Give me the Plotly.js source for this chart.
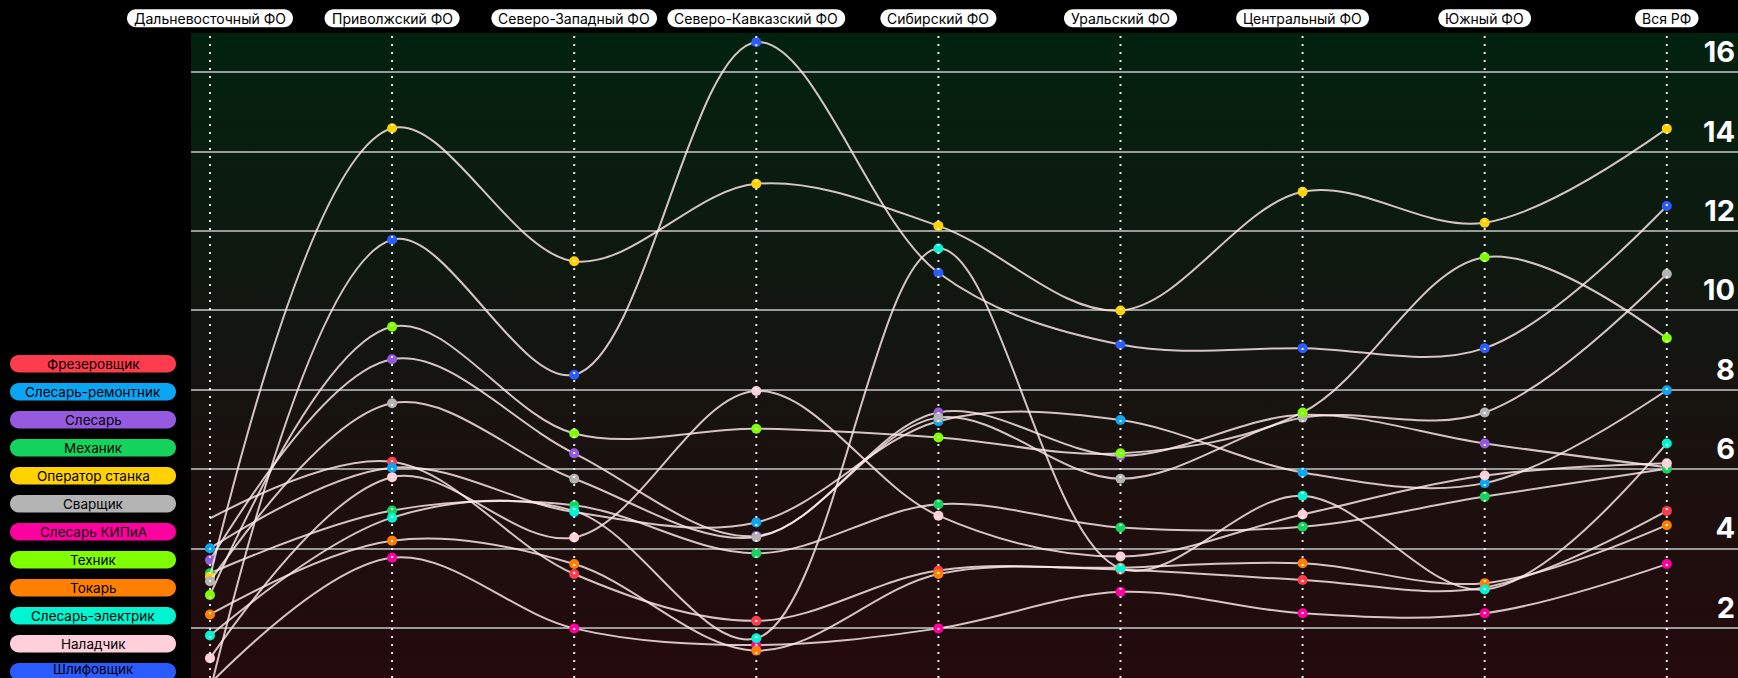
<!DOCTYPE html>
<html>
<head>
<meta charset="utf-8">
<script src="https://cdn.plot.ly/plotly-3.0.1.min.js"></script>
<style>
  html, body { margin: 0; padding: 0; background: #000; }
  #wrap { position: relative; width: 1738px; height: 678px; overflow: hidden; background: #000; }
  #bg {
    position: absolute; left: 191px; top: 33px; width: 1547px; height: 645px;
    background: linear-gradient(to bottom, #02220f 0%, #0b1b0f 25%, #141510 50%, #1d0f0e 75%, #240a0c 100%);
  }
  #chart { position: absolute; left: 0; top: 0; width: 1738px; height: 678px; }
</style>
</head>
<body>
<div id="wrap"><div id="bg"></div><div id="chart"></div></div>
<script>
// Federal districts (x categories)
const districts = [
  'Дальневосточный ФО', 'Приволжский ФО', 'Северо-Западный ФО', 'Северо-Кавказский ФО',
  'Сибирский ФО', 'Уральский ФО', 'Центральный ФО', 'Южный ФО', 'Вся РФ'
];

// Professions, in legend order
const professions = [
  'Фрезеровщик', 'Слесарь-ремонтник', 'Слесарь', 'Механик', 'Оператор станка', 'Сварщик',
  'Слесарь КИПиА', 'Техник', 'Токарь', 'Слесарь-электрик', 'Наладчик', 'Шлифовщик'
];

// Values per profession across districts
const frezerovshchik   = [4.76, 6.19, 3.36, 2.18, 3.45, 3.47, 3.21, 3.02, 4.95];
const slesarRemontnik  = [4.01, 6.04, 4.92, 4.66, 7.21, 7.24, 5.92, 5.65, 7.99];
const slesar           = [3.71, 8.77, 6.40, 4.32, 7.43, 6.34, 7.37, 6.65, 6.05];
const mekhanik         = [3.38, 4.96, 5.09, 3.88, 5.12, 4.53, 4.55, 5.31, 6.01];
const operatorStanka   = [3.29, 14.59, 11.24, 13.19, 12.13, 10.00, 12.99, 12.21, 14.58];
const svarshchik       = [3.18, 7.66, 5.76, 4.29, 7.30, 5.76, 7.30, 7.43, 10.92];
const slesarKipia      = [0.60, 3.77, 1.99, 1.57, 1.99, 2.91, 2.37, 2.37, 3.61];
const tekhnik          = [2.83, 9.59, 6.90, 7.02, 6.80, 6.40, 7.43, 11.34, 9.30];
const tokar            = [2.34, 4.20, 3.61, 1.43, 3.36, 3.52, 3.63, 3.13, 4.59];
const slesarElektrik   = [1.81, 4.78, 4.95, 1.74, 11.56, 3.50, 5.33, 2.97, 6.65];
const naladchik        = [1.24, 5.80, 4.28, 7.97, 4.83, 3.80, 4.86, 5.84, 6.15];
const shlifovshchik    = [0.40, 11.78, 8.38, 16.76, 10.95, 9.14, 9.05, 9.05, 12.63];

const seriesValues = [
  frezerovshchik, slesarRemontnik, slesar, mekhanik, operatorStanka, svarshchik,
  slesarKipia, tekhnik, tokar, slesarElektrik, naladchik, shlifovshchik
];

// Y-axis ticks
const yTicks = [2, 4, 6, 8, 10, 12, 14, 16];

// ---- styling ----
const colors = [
  '#ff3b4e', '#0aa6f5', '#965ae0', '#14d45e', '#ffd200', '#b4b4b4',
  '#ff00a0', '#80ff00', '#ff7f00', '#00f5d0', '#ffd0da', '#2b5cff'
];
const noMarkerAtStart = new Set(['Фрезеровщик']);

const W = 1738, H = 678;
const M = { l: 191, r: 0, t: 33, b: 0 };
const plotW = W - M.l - M.r, plotH = H - M.t - M.b;
const xRange = [-0.1043, 8.391];
const yRange = [0.74, 16.99];

const toPaperX = px => (px - M.l) / plotW;
const toPaperY = py => (H - M.b - py) / plotH;
const xToPaper = v => (v - xRange[0]) / (xRange[1] - xRange[0]);

const FONT = 'Inter, "Noto Sans", sans-serif';

// rounded pill path centred on its anchor, in pixels
function pillPath(w, h) {
  const r = h / 2, k = 0.5523 * r, a = w / 2, b = h / 2;
  const f = n => n.toFixed(2);
  return `M ${f(-a + r)} ${f(-b)} L ${f(a - r)} ${f(-b)} ` +
    `C ${f(a - r + k)} ${f(-b)} ${f(a)} ${f(-k)} ${f(a)} 0 ` +
    `C ${f(a)} ${f(k)} ${f(a - r + k)} ${f(b)} ${f(a - r)} ${f(b)} ` +
    `L ${f(-a + r)} ${f(b)} ` +
    `C ${f(-a + r - k)} ${f(b)} ${f(-a)} ${f(k)} ${f(-a)} 0 ` +
    `C ${f(-a)} ${f(-k)} ${f(-a + r - k)} ${f(-b)} ${f(-a + r)} ${f(-b)} Z`;
}

const ctx = document.createElement('canvas').getContext('2d');
function textWidth(str, sizePx) {
  ctx.font = `${sizePx}px Inter`;
  return ctx.measureText(str).width;
}

const xIdx = districts.map((_, i) => i);

const traces = professions.map((name, s) => ({
  type: 'scatter',
  mode: 'lines+markers',
  name: name,
  x: xIdx,
  y: seriesValues[s],
  line: { color: 'rgba(255,236,236,0.82)', width: 2, shape: 'spline', smoothing: 1 },
  marker: {
    color: colors[s], size: 10, line: { width: 0 },
    opacity: seriesValues[s].map((_, i) => (i === 0 && noMarkerAtStart.has(name)) ? 0 : 1)
  },
  showlegend: false,
  hoverinfo: 'skip'
}));

const shapes = [];
const annotations = [];

// dotted verticals at every district
xIdx.forEach(i => {
  shapes.push({
    type: 'line', xref: 'x', yref: 'paper', x0: i, x1: i, y0: 0, y1: 1,
    line: { color: 'rgba(255,255,255,0.9)', width: 2, dash: '2px,6px' },
    layer: 'above'
  });
});

// district labels in white pills above the plot
const topY = toPaperY(18.3);
districts.forEach((d, i) => {
  const w = textWidth(d, 14) + 14;
  shapes.push({
    type: 'path', xref: 'paper', yref: 'paper',
    xsizemode: 'pixel', ysizemode: 'pixel',
    xanchor: xToPaper(i), yanchor: topY,
    path: pillPath(w, 18),
    fillcolor: '#ffffff', line: { width: 0 }, layer: 'above'
  });
  annotations.push({
    xref: 'paper', yref: 'paper', x: xToPaper(i), y: topY,
    xanchor: 'center', yanchor: 'middle', showarrow: false,
    text: d, font: { family: FONT, size: 14, color: '#000' }
  });
});

// legend pills on the left
professions.forEach((p, s) => {
  const cy = 363.7 + 28 * s;
  shapes.push({
    type: 'path', xref: 'paper', yref: 'paper',
    xsizemode: 'pixel', ysizemode: 'pixel',
    xanchor: toPaperX(93), yanchor: toPaperY(cy),
    path: pillPath(166, 17.5),
    fillcolor: colors[s], line: { width: 0 }, layer: 'above'
  });
  // keep the lowest label inside the page edge
  const last = cy + 9 > H;
  annotations.push({
    xref: 'paper', yref: 'paper', x: toPaperX(93),
    y: last ? toPaperY(H) : toPaperY(cy),
    xanchor: 'center', yanchor: last ? 'bottom' : 'middle', showarrow: false,
    borderpad: last ? 0 : 1,
    text: p, font: { family: FONT, size: 13.5, color: '#000' }
  });
});

const layout = {
  width: W, height: H,
  margin: M,
  paper_bgcolor: 'rgba(0,0,0,0)',
  plot_bgcolor: 'rgba(0,0,0,0)',
  xaxis: {
    range: xRange, showgrid: false, zeroline: false, showticklabels: false,
    ticks: '', showline: false, fixedrange: true
  },
  yaxis: {
    side: 'right', range: yRange, tickvals: yTicks, ticktext: yTicks.map(String),
    showgrid: true, gridcolor: '#9a9a9a', gridwidth: 2, zeroline: false,
    ticks: '', showline: false, ticklabelposition: 'inside top',
    tickfont: { family: FONT, size: 29, color: '#ffffff', weight: 700 },
    fixedrange: true
  },
  shapes: shapes,
  annotations: annotations,
  showlegend: false
};

Plotly.newPlot('chart', traces, layout, { displayModeBar: false, staticPlot: true });
</script>
</body>
</html>
